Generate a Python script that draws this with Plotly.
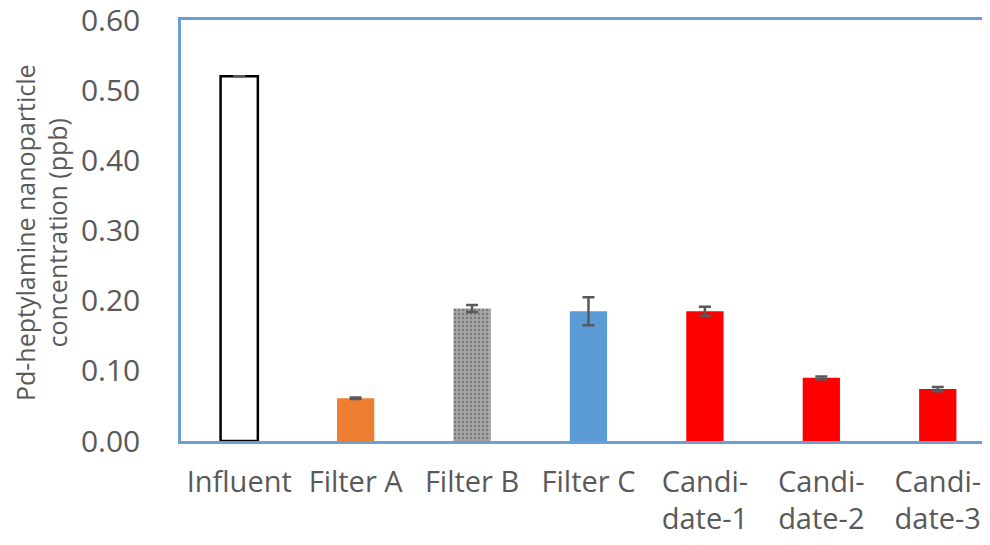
import plotly.graph_objects as go

categories = ["Influent", "Filter A", "Filter B", "Filter C", "Candi-<br>date-1", "Candi-<br>date-2", "Candi-<br>date-3"]
values = [0.52, 0.061, 0.189, 0.185, 0.185, 0.090, 0.074]
errors = [0.0, 0.001, 0.005, 0.02, 0.0065, 0.002, 0.003]
fill_colors = ["#FFFFFF", "#ED7D31", "#A5A5A5", "#5B9BD5", "#FF0000", "#FF0000", "#FF0000"]
line_colors = ["#000000", "#ED7D31", "#A5A5A5", "#5B9BD5", "#FF0000", "#FF0000", "#FF0000"]
line_widths = [2.5, 0, 0, 0, 0, 0, 0]
pattern_shapes = ["", "", ".", "", "", "", ""]
y_ticks = [0.0, 0.1, 0.2, 0.3, 0.4, 0.5, 0.6]
y_ticktext = ["0.00", "0.10", "0.20", "0.30", "0.40", "0.50", "0.60"]
y_title = "Pd-heptylamine nanoparticle<br>concentration (ppb)"

fig = go.Figure()
fig.add_trace(go.Bar(
    x=list(range(len(categories))),
    y=values,
    marker=dict(
        color=fill_colors,
        line=dict(color=line_colors, width=line_widths),
        pattern=dict(shape=pattern_shapes, fgcolor="#8C8C8C", size=4, solidity=0.25, fillmode="overlay"),
    ),
    error_y=dict(type="data", array=errors, visible=True, color="#595959", thickness=2.5, width=6),
    width=0.32,
))

fig.update_layout(
    width=974, height=529,
    margin=dict(l=173, r=0, t=12, b=96),
    paper_bgcolor="white", plot_bgcolor="white",
    showlegend=False,
    font=dict(family="Open Sans", color="#595959"),
    xaxis=dict(
        range=[-0.5, 6.38], automargin=False,
        tickmode="array", tickvals=list(range(len(categories))), ticktext=categories,
        tickfont=dict(size=29, color="#595959"),
        showline=True, linecolor="#6A9FD8", linewidth=2.5, mirror=True,
        showgrid=False, zeroline=False, ticks="",
        ticklabelstandoff=13, ticklabeloverflow="allow",
    ),
    yaxis=dict(
        range=[0, 0.6], automargin=False,
        tickmode="array", tickvals=y_ticks, ticktext=y_ticktext,
        tickfont=dict(size=30, color="#595959"),
        showline=True, linecolor="#6A9FD8", linewidth=2.5,
        showgrid=False, zeroline=False, ticks="",
        ticklabelstandoff=32, ticklabeloverflow="allow",
    ),
    annotations=[dict(
        text=y_title, textangle=-90, showarrow=False,
        xref="paper", yref="paper", x=-0.175, y=0.496,
        xanchor="center", yanchor="middle",
        font=dict(size=25, color="#595959"),
    )],
)

fig.write_html("out.html")
